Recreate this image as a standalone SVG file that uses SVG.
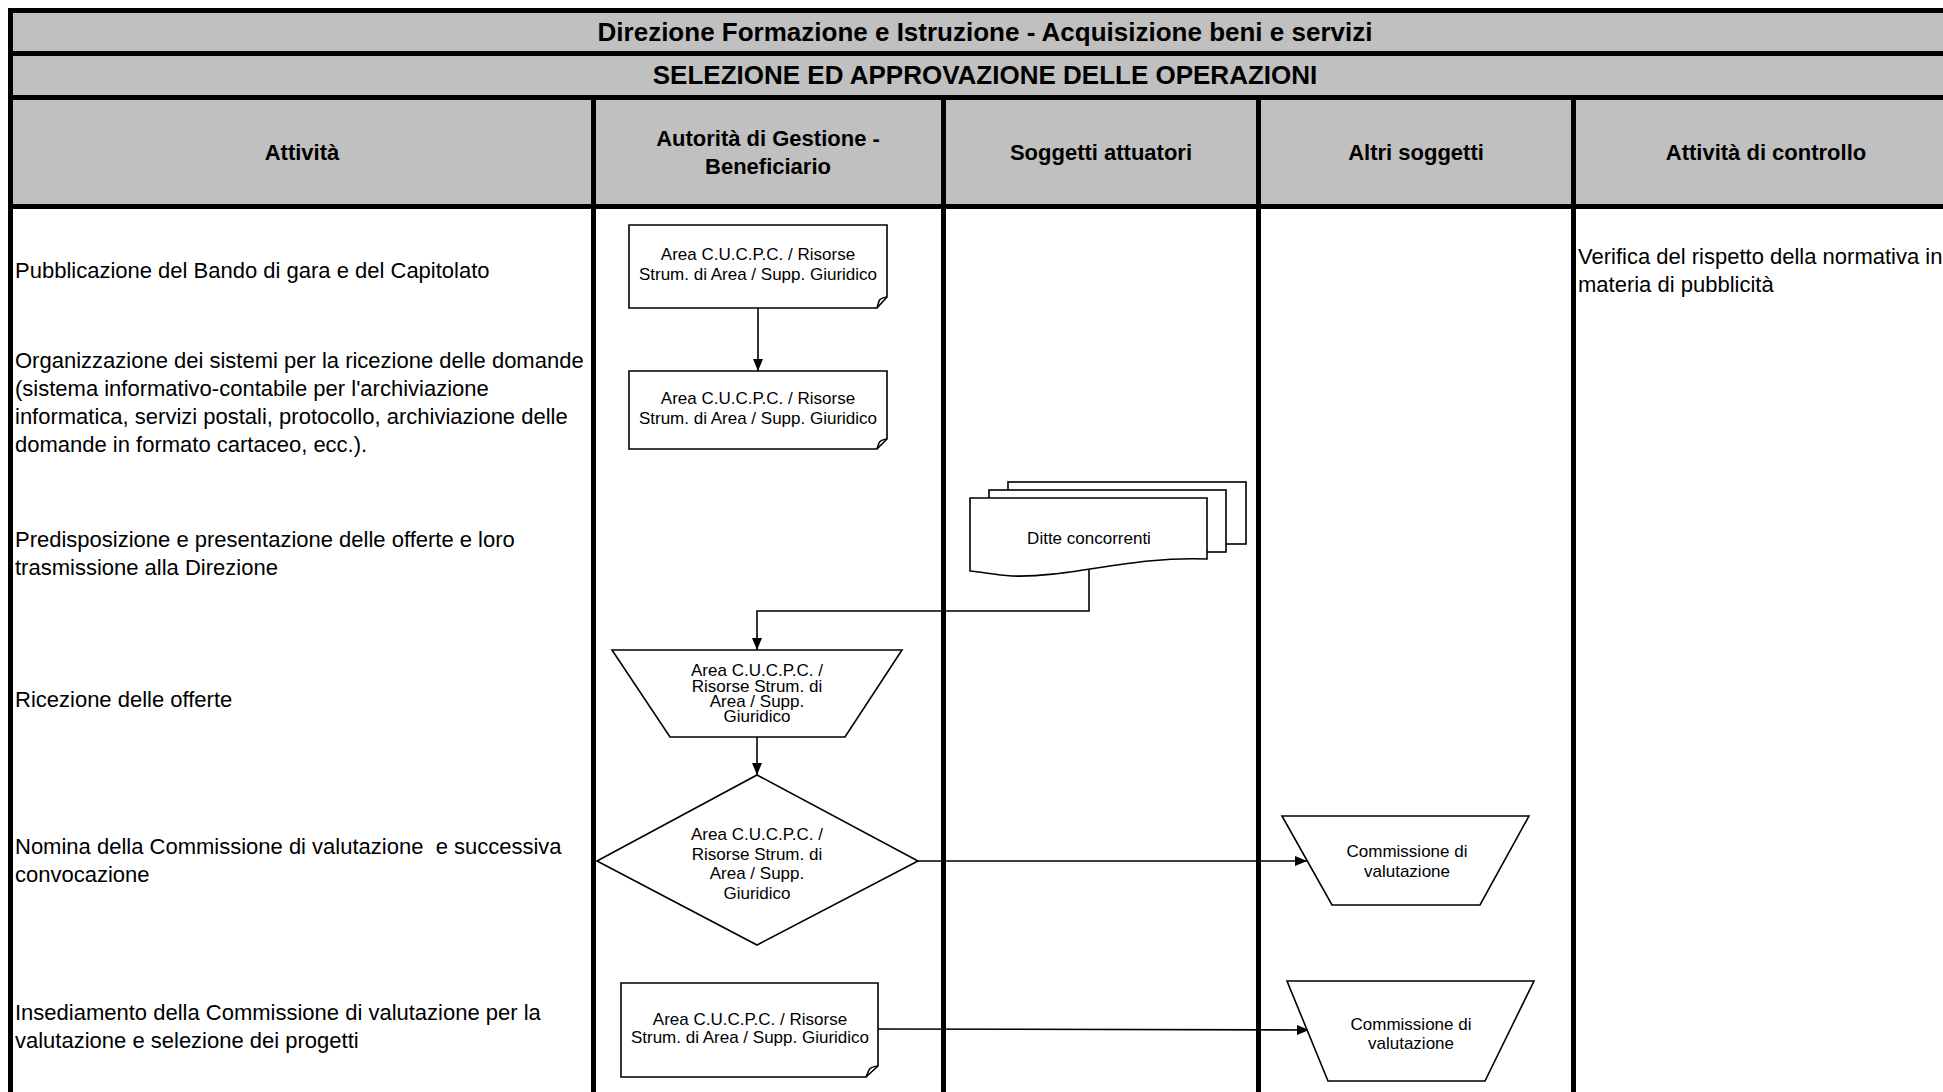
<svg xmlns="http://www.w3.org/2000/svg" width="1943" height="1092" viewBox="0 0 1943 1092">
<style>
text{font-family:"Liberation Sans",Arial,sans-serif;fill:#000}
.title{font-size:26px;font-weight:bold;text-anchor:middle}
.hdr{font-size:22px;font-weight:bold;text-anchor:middle}
.body{font-size:22px}
.node{font-size:17px;text-anchor:middle}
.shape{fill:#fff;stroke:#000;stroke-width:1.6}
.conn{fill:none;stroke:#000;stroke-width:1.6}
</style>
<defs>
<marker id="arr" markerUnits="userSpaceOnUse" markerWidth="12" markerHeight="10" refX="12" refY="5" orient="auto">
<path d="M0,0 L12,5 L0,10 Z" fill="#000"/>
</marker>
</defs>
<rect x="0" y="0" width="1943" height="1092" fill="#fff"/>
<g id="grid">
<rect x="8" y="8" width="1935" height="201" fill="#c0c0c0"/>
<rect x="8" y="8" width="1935" height="5" fill="#000"/>
<rect x="8" y="51" width="1935" height="5" fill="#000"/>
<rect x="8" y="95" width="1935" height="5" fill="#000"/>
<rect x="8" y="204" width="1935" height="5" fill="#000"/>
<rect x="8" y="8" width="5" height="1084" fill="#000"/>
<rect x="591" y="95" width="5" height="997" fill="#000"/>
<rect x="941" y="95" width="5" height="997" fill="#000"/>
<rect x="1256" y="95" width="5" height="997" fill="#000"/>
<rect x="1571" y="95" width="5" height="997" fill="#000"/>
</g>
<g id="headers">
<text class="title" x="985" y="41">Direzione Formazione e Istruzione - Acquisizione beni e servizi</text>
<text class="title" x="985" y="84">SELEZIONE ED APPROVAZIONE DELLE OPERAZIONI</text>
<text class="hdr" x="302" y="160">Attività</text>
<text class="hdr" x="768" y="146">Autorità di Gestione -</text>
<text class="hdr" x="768" y="174">Beneficiario</text>
<text class="hdr" x="1101" y="160">Soggetti attuatori</text>
<text class="hdr" x="1416" y="160">Altri soggetti</text>
<text class="hdr" x="1766" y="160">Attività di controllo</text>
</g>
<g id="activities">
<text class="body" x="15" y="278">Pubblicazione del Bando di gara e del Capitolato</text>
<text class="body" x="15" y="368">Organizzazione dei sistemi per la ricezione delle domande</text>
<text class="body" x="15" y="396">(sistema informativo-contabile per l'archiviazione</text>
<text class="body" x="15" y="424">informatica, servizi postali, protocollo, archiviazione delle</text>
<text class="body" x="15" y="452">domande in formato cartaceo, ecc.).</text>
<text class="body" x="15" y="547">Predisposizione e presentazione delle offerte e loro</text>
<text class="body" x="15" y="575">trasmissione alla Direzione</text>
<text class="body" x="15" y="707">Ricezione delle offerte</text>
<text class="body" x="15" y="854" xml:space="preserve">Nomina della Commissione di valutazione  e successiva</text>
<text class="body" x="15" y="882">convocazione</text>
<text class="body" x="15" y="1020">Insediamento della Commissione di valutazione per la</text>
<text class="body" x="15" y="1048">valutazione e selezione dei progetti</text>
</g>
<g id="controls">
<text class="body" x="1578" y="264">Verifica del rispetto della normativa in</text>
<text class="body" x="1578" y="292">materia di pubblicità</text>
</g>
<g id="connectors">
<path class="conn" d="M758,308 V371" marker-end="url(#arr)"/>
<path class="conn" d="M1089,570 V611 H757 V650" marker-end="url(#arr)"/>
<path class="conn" d="M757,737 V775" marker-end="url(#arr)"/>
<path class="conn" d="M918,861 H1307" marker-end="url(#arr)"/>
<path class="conn" d="M878,1029 L1309,1030" marker-end="url(#arr)"/>
</g>
<g id="node-pubblicazione">
<path class="shape" d="M629,225 H887 V297 L877,308 H629 Z"/>
<path class="conn" d="M887,297 Q880,298 879,301 L877,308"/>
<text class="node" x="758" y="260">Area C.U.C.P.C. / Risorse</text>
<text class="node" x="758" y="280">Strum. di Area / Supp. Giuridico</text>
</g>
<g id="node-organizzazione">
<path class="shape" d="M629,371 H887 V439 L877,449 H629 Z"/>
<path class="conn" d="M887,439 Q880,440 879,443 L877,449"/>
<text class="node" x="758" y="404">Area C.U.C.P.C. / Risorse</text>
<text class="node" x="758" y="424">Strum. di Area / Supp. Giuridico</text>
</g>
<g id="node-ditte">
<rect class="shape" x="1008" y="482" width="238" height="62"/>
<rect class="shape" x="989" y="490" width="237" height="62"/>
<path class="shape" d="M970,498 H1207 V559 C1130,556 1070,578 1012,576 C995,575 982,572 970,571 Z"/>
<text class="node" x="1089" y="544">Ditte concorrenti</text>
</g>
<g id="node-ricezione">
<path class="shape" d="M612,650 H902 L845,737 H670 Z"/>
<text class="node" x="757" y="676">Area C.U.C.P.C. /</text>
<text class="node" x="757" y="691.5">Risorse Strum. di</text>
<text class="node" x="757" y="707">Area / Supp.</text>
<text class="node" x="757" y="722">Giuridico</text>
</g>
<g id="node-nomina">
<path class="shape" d="M757,775 L918,861 L757,945 L597,861 Z"/>
<text class="node" x="757" y="840">Area C.U.C.P.C. /</text>
<text class="node" x="757" y="859.5">Risorse Strum. di</text>
<text class="node" x="757" y="879">Area / Supp.</text>
<text class="node" x="757" y="899">Giuridico</text>
</g>
<g id="node-commissione-1">
<path class="shape" d="M1282,816 H1529 L1480,905 H1332 Z"/>
<text class="node" x="1407" y="857">Commissione di</text>
<text class="node" x="1407" y="877">valutazione</text>
</g>
<g id="node-insediamento">
<path class="shape" d="M621,983 H878 V1066 L866,1077 H621 Z"/>
<path class="conn" d="M878,1066 Q870,1067 869,1070 L866,1077"/>
<text class="node" x="750" y="1025">Area C.U.C.P.C. / Risorse</text>
<text class="node" x="750" y="1043">Strum. di Area / Supp. Giuridico</text>
</g>
<g id="node-commissione-2">
<path class="shape" d="M1287,981 H1534 L1485,1081 H1328 Z"/>
<text class="node" x="1411" y="1030">Commissione di</text>
<text class="node" x="1411" y="1049">valutazione</text>
</g>
</svg>
